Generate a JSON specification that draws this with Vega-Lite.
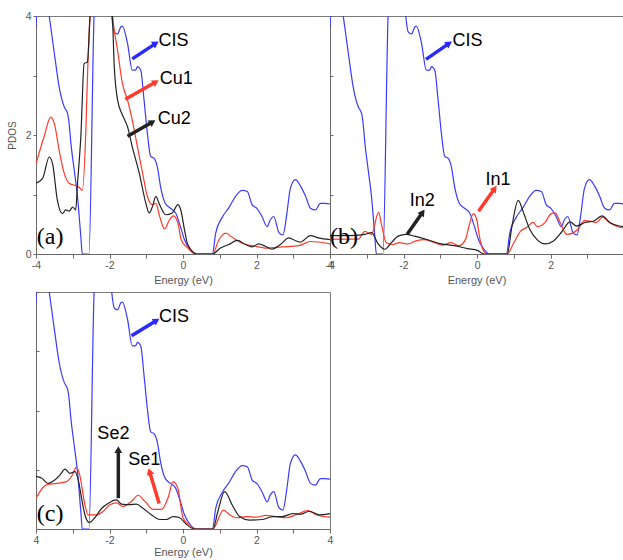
{
  "$schema": "https://vega.github.io/schema/vega-lite/v6.json",
  "padding": {"left": 6, "top": 10, "right": 0, "bottom": 0},
  "background": "white",
  "config": {
    "view": {"stroke": "#7a7a7a", "strokeWidth": 1},
    "axis": {"domainColor": "#6a6a6a", "tickColor": "#6a6a6a", "labelColor": "#555555", "titleColor": "#555555", "labelFont": "Liberation Sans", "titleFont": "Liberation Sans", "labelFontSize": 10.5, "titleFontSize": 11, "titleFontWeight": "normal", "grid": false}
  },
  "datasets": {
    "cis": [
      {"E":-4.0,"V":3.8},{"E":-3.95,"V":4.6},{"E":-3.8,"V":4.8},{"E":-3.64,"V":4.0},{"E":-3.5,"V":3.37},{"E":-3.37,"V":2.81},{"E":-3.23,"V":2.47},{"E":-3.14,"V":2.36},{"E":-3.1,"V":2.2},{"E":-3.05,"V":1.86},{"E":-2.96,"V":1.41},{"E":-2.87,"V":0.96},{"E":-2.78,"V":0.29},{"E":-2.74,"V":0},{"E":-2.56,"V":0},{"E":-2.42,"V":4.0},{"E":-2.3,"V":5},{"E":-2.05,"V":5},{"E":-1.94,"V":4.0},{"E":-1.87,"V":3.73},{"E":-1.78,"V":3.7},{"E":-1.69,"V":3.82},{"E":-1.65,"V":3.83},{"E":-1.51,"V":3.54},{"E":-1.38,"V":3.09},{"E":-1.29,"V":3.09},{"E":-1.24,"V":3.15},{"E":-1.15,"V":3.09},{"E":-1.06,"V":2.59},{"E":-0.97,"V":2.03},{"E":-0.88,"V":1.64},{"E":-0.79,"V":1.61},{"E":-0.7,"V":1.47},{"E":-0.61,"V":1.13},{"E":-0.48,"V":0.85},{"E":-0.34,"V":0.77},{"E":-0.2,"V":0.69},{"E":-0.07,"V":0.46},{"E":0.04,"V":0.24},{"E":0.2,"V":0.07},{"E":0.34,"V":0},{"E":0.8,"V":0},{"E":0.89,"V":0.35},{"E":1.07,"V":0.62},{"E":1.25,"V":0.78},{"E":1.43,"V":0.97},{"E":1.61,"V":1.07},{"E":1.75,"V":1.05},{"E":1.88,"V":0.83},{"E":2.02,"V":0.76},{"E":2.15,"V":0.63},{"E":2.29,"V":0.46},{"E":2.38,"V":0.58},{"E":2.47,"V":0.63},{"E":2.61,"V":0.36},{"E":2.72,"V":0.32},{"E":2.82,"V":0.65},{"E":2.92,"V":1.1},{"E":3.06,"V":1.25},{"E":3.19,"V":1.15},{"E":3.33,"V":0.98},{"E":3.47,"V":0.77},{"E":3.6,"V":0.74},{"E":3.74,"V":0.85},{"E":3.87,"V":0.85},{"E":4.0,"V":0.84}
    ],
    "pdos": [
      {"p":"a","s":"Cu1","E":-4.0,"V":1.52},{"p":"a","s":"Cu1","E":-3.78,"V":1.97},{"p":"a","s":"Cu1","E":-3.6,"V":2.3},{"p":"a","s":"Cu1","E":-3.5,"V":2.19},{"p":"a","s":"Cu1","E":-3.37,"V":1.74},{"p":"a","s":"Cu1","E":-3.23,"V":1.35},{"p":"a","s":"Cu1","E":-3.1,"V":1.19},{"p":"a","s":"Cu1","E":-2.92,"V":1.15},{"p":"a","s":"Cu1","E":-2.83,"V":1.12},{"p":"a","s":"Cu1","E":-2.74,"V":1.07},{"p":"a","s":"Cu1","E":-2.64,"V":2.14},{"p":"a","s":"Cu1","E":-2.6,"V":2.97},{"p":"a","s":"Cu1","E":-2.53,"V":4.0},{"p":"a","s":"Cu1","E":-2.45,"V":4.6},{"p":"a","s":"Cu1","E":-2.0,"V":4.6},{"p":"a","s":"Cu1","E":-1.92,"V":4.0},{"p":"a","s":"Cu1","E":-1.78,"V":3.42},{"p":"a","s":"Cu1","E":-1.65,"V":2.87},{"p":"a","s":"Cu1","E":-1.51,"V":2.59},{"p":"a","s":"Cu1","E":-1.38,"V":2.25},{"p":"a","s":"Cu1","E":-1.24,"V":1.8},{"p":"a","s":"Cu1","E":-1.1,"V":1.36},{"p":"a","s":"Cu1","E":-0.97,"V":0.97},{"p":"a","s":"Cu1","E":-0.84,"V":0.83},{"p":"a","s":"Cu1","E":-0.74,"V":0.85},{"p":"a","s":"Cu1","E":-0.63,"V":0.62},{"p":"a","s":"Cu1","E":-0.5,"V":0.42},{"p":"a","s":"Cu1","E":-0.38,"V":0.56},{"p":"a","s":"Cu1","E":-0.26,"V":0.64},{"p":"a","s":"Cu1","E":-0.13,"V":0.5},{"p":"a","s":"Cu1","E":-0.05,"V":0.24},{"p":"a","s":"Cu1","E":0.13,"V":0.1},{"p":"a","s":"Cu1","E":0.34,"V":0},{"p":"a","s":"Cu1","E":0.8,"V":0},{"p":"a","s":"Cu1","E":0.98,"V":0.24},{"p":"a","s":"Cu1","E":1.16,"V":0.35},{"p":"a","s":"Cu1","E":1.34,"V":0.28},{"p":"a","s":"Cu1","E":1.61,"V":0.18},{"p":"a","s":"Cu1","E":1.97,"V":0.13},{"p":"a","s":"Cu1","E":2.24,"V":0.1},{"p":"a","s":"Cu1","E":2.7,"V":0.12},{"p":"a","s":"Cu1","E":3.15,"V":0.14},{"p":"a","s":"Cu1","E":3.47,"V":0.21},{"p":"a","s":"Cu1","E":4.0,"V":0.17},
      {"p":"a","s":"Cu2","E":-4.0,"V":1.19},{"p":"a","s":"Cu2","E":-3.82,"V":1.27},{"p":"a","s":"Cu2","E":-3.64,"V":1.63},{"p":"a","s":"Cu2","E":-3.55,"V":1.52},{"p":"a","s":"Cu2","E":-3.42,"V":0.91},{"p":"a","s":"Cu2","E":-3.28,"V":0.68},{"p":"a","s":"Cu2","E":-3.19,"V":0.74},{"p":"a","s":"Cu2","E":-3.1,"V":0.72},{"p":"a","s":"Cu2","E":-3.0,"V":0.79},{"p":"a","s":"Cu2","E":-2.92,"V":0.74},{"p":"a","s":"Cu2","E":-2.87,"V":1.19},{"p":"a","s":"Cu2","E":-2.78,"V":1.97},{"p":"a","s":"Cu2","E":-2.69,"V":3.2},{"p":"a","s":"Cu2","E":-2.6,"V":3.23},{"p":"a","s":"Cu2","E":-2.53,"V":4.0},{"p":"a","s":"Cu2","E":-2.45,"V":4.6},{"p":"a","s":"Cu2","E":-2.0,"V":4.6},{"p":"a","s":"Cu2","E":-1.92,"V":4.0},{"p":"a","s":"Cu2","E":-1.87,"V":3.15},{"p":"a","s":"Cu2","E":-1.78,"V":2.59},{"p":"a","s":"Cu2","E":-1.65,"V":2.34},{"p":"a","s":"Cu2","E":-1.51,"V":2.14},{"p":"a","s":"Cu2","E":-1.38,"V":1.8},{"p":"a","s":"Cu2","E":-1.19,"V":1.36},{"p":"a","s":"Cu2","E":-1.01,"V":0.85},{"p":"a","s":"Cu2","E":-0.92,"V":0.69},{"p":"a","s":"Cu2","E":-0.83,"V":0.8},{"p":"a","s":"Cu2","E":-0.74,"V":0.97},{"p":"a","s":"Cu2","E":-0.65,"V":0.85},{"p":"a","s":"Cu2","E":-0.47,"V":0.66},{"p":"a","s":"Cu2","E":-0.29,"V":0.69},{"p":"a","s":"Cu2","E":-0.14,"V":0.83},{"p":"a","s":"Cu2","E":-0.06,"V":0.74},{"p":"a","s":"Cu2","E":0.04,"V":0.41},{"p":"a","s":"Cu2","E":0.13,"V":0.16},{"p":"a","s":"Cu2","E":0.39,"V":0},{"p":"a","s":"Cu2","E":0.8,"V":0},{"p":"a","s":"Cu2","E":1.02,"V":0.1},{"p":"a","s":"Cu2","E":1.25,"V":0.16},{"p":"a","s":"Cu2","E":1.48,"V":0.23},{"p":"a","s":"Cu2","E":1.7,"V":0.16},{"p":"a","s":"Cu2","E":1.88,"V":0.12},{"p":"a","s":"Cu2","E":2.06,"V":0.17},{"p":"a","s":"Cu2","E":2.24,"V":0.13},{"p":"a","s":"Cu2","E":2.42,"V":0.08},{"p":"a","s":"Cu2","E":2.65,"V":0.16},{"p":"a","s":"Cu2","E":2.88,"V":0.27},{"p":"a","s":"Cu2","E":3.01,"V":0.24},{"p":"a","s":"Cu2","E":3.19,"V":0.2},{"p":"a","s":"Cu2","E":3.47,"V":0.31},{"p":"a","s":"Cu2","E":3.69,"V":0.27},{"p":"a","s":"Cu2","E":4.0,"V":0.24},
      {"p":"b","s":"In1","E":-4.0,"V":0.25},{"p":"b","s":"In1","E":-3.5,"V":0.25},{"p":"b","s":"In1","E":-3.23,"V":0.25},{"p":"b","s":"In1","E":-3.05,"V":0.38},{"p":"b","s":"In1","E":-2.87,"V":0.33},{"p":"b","s":"In1","E":-2.68,"V":0.7},{"p":"b","s":"In1","E":-2.59,"V":0.47},{"p":"b","s":"In1","E":-2.47,"V":0.19},{"p":"b","s":"In1","E":-2.29,"V":0.16},{"p":"b","s":"In1","E":-2.11,"V":0.19},{"p":"b","s":"In1","E":-1.88,"V":0.17},{"p":"b","s":"In1","E":-1.66,"V":0.22},{"p":"b","s":"In1","E":-1.43,"V":0.24},{"p":"b","s":"In1","E":-1.16,"V":0.19},{"p":"b","s":"In1","E":-0.94,"V":0.15},{"p":"b","s":"In1","E":-0.71,"V":0.19},{"p":"b","s":"In1","E":-0.49,"V":0.14},{"p":"b","s":"In1","E":-0.31,"V":0.25},{"p":"b","s":"In1","E":-0.22,"V":0.47},{"p":"b","s":"In1","E":-0.1,"V":0.68},{"p":"b","s":"In1","E":-0.01,"V":0.58},{"p":"b","s":"In1","E":0.08,"V":0.25},{"p":"b","s":"In1","E":0.17,"V":0.06},{"p":"b","s":"In1","E":0.28,"V":0},{"p":"b","s":"In1","E":0.82,"V":0},{"p":"b","s":"In1","E":1.0,"V":0.19},{"p":"b","s":"In1","E":1.18,"V":0.38},{"p":"b","s":"In1","E":1.36,"V":0.45},{"p":"b","s":"In1","E":1.52,"V":0.53},{"p":"b","s":"In1","E":1.65,"V":0.46},{"p":"b","s":"In1","E":1.85,"V":0.53},{"p":"b","s":"In1","E":2.0,"V":0.67},{"p":"b","s":"In1","E":2.12,"V":0.69},{"p":"b","s":"In1","E":2.26,"V":0.53},{"p":"b","s":"In1","E":2.44,"V":0.33},{"p":"b","s":"In1","E":2.6,"V":0.35},{"p":"b","s":"In1","E":2.75,"V":0.42},{"p":"b","s":"In1","E":2.92,"V":0.56},{"p":"b","s":"In1","E":3.1,"V":0.55},{"p":"b","s":"In1","E":3.25,"V":0.53},{"p":"b","s":"In1","E":3.41,"V":0.62},{"p":"b","s":"In1","E":3.6,"V":0.53},{"p":"b","s":"In1","E":3.87,"V":0.45},{"p":"b","s":"In1","E":4.0,"V":0.44},
      {"p":"b","s":"In2","E":-4.0,"V":0.31},{"p":"b","s":"In2","E":-3.5,"V":0.31},{"p":"b","s":"In2","E":-3.05,"V":0.33},{"p":"b","s":"In2","E":-2.87,"V":0.36},{"p":"b","s":"In2","E":-2.69,"V":0.17},{"p":"b","s":"In2","E":-2.51,"V":0.08},{"p":"b","s":"In2","E":-2.33,"V":0.19},{"p":"b","s":"In2","E":-2.15,"V":0.3},{"p":"b","s":"In2","E":-1.93,"V":0.33},{"p":"b","s":"In2","E":-1.7,"V":0.3},{"p":"b","s":"In2","E":-1.34,"V":0.24},{"p":"b","s":"In2","E":-0.98,"V":0.17},{"p":"b","s":"In2","E":-0.62,"V":0.14},{"p":"b","s":"In2","E":-0.26,"V":0.09},{"p":"b","s":"In2","E":0.01,"V":0.06},{"p":"b","s":"In2","E":0.19,"V":0},{"p":"b","s":"In2","E":0.82,"V":0},{"p":"b","s":"In2","E":0.95,"V":0.47},{"p":"b","s":"In2","E":1.12,"V":0.9},{"p":"b","s":"In2","E":1.25,"V":0.72},{"p":"b","s":"In2","E":1.43,"V":0.42},{"p":"b","s":"In2","E":1.62,"V":0.25},{"p":"b","s":"In2","E":1.85,"V":0.17},{"p":"b","s":"In2","E":2.08,"V":0.22},{"p":"b","s":"In2","E":2.3,"V":0.37},{"p":"b","s":"In2","E":2.53,"V":0.54},{"p":"b","s":"In2","E":2.71,"V":0.47},{"p":"b","s":"In2","E":2.94,"V":0.53},{"p":"b","s":"In2","E":3.16,"V":0.55},{"p":"b","s":"In2","E":3.4,"V":0.64},{"p":"b","s":"In2","E":3.61,"V":0.53},{"p":"b","s":"In2","E":3.87,"V":0.47},{"p":"b","s":"In2","E":4.0,"V":0.46},
      {"p":"c","s":"Se1","E":-4.0,"V":0.52},{"p":"c","s":"Se1","E":-3.71,"V":0.75},{"p":"c","s":"Se1","E":-3.44,"V":0.77},{"p":"c","s":"Se1","E":-3.17,"V":0.8},{"p":"c","s":"Se1","E":-3.03,"V":0.89},{"p":"c","s":"Se1","E":-2.9,"V":1.04},{"p":"c","s":"Se1","E":-2.81,"V":0.91},{"p":"c","s":"Se1","E":-2.67,"V":0.41},{"p":"c","s":"Se1","E":-2.58,"V":0.24},{"p":"c","s":"Se1","E":-2.35,"V":0.24},{"p":"c","s":"Se1","E":-2.17,"V":0.3},{"p":"c","s":"Se1","E":-1.99,"V":0.41},{"p":"c","s":"Se1","E":-1.81,"V":0.44},{"p":"c","s":"Se1","E":-1.63,"V":0.38},{"p":"c","s":"Se1","E":-1.4,"V":0.47},{"p":"c","s":"Se1","E":-1.22,"V":0.57},{"p":"c","s":"Se1","E":-1.04,"V":0.47},{"p":"c","s":"Se1","E":-0.81,"V":0.33},{"p":"c","s":"Se1","E":-0.59,"V":0.33},{"p":"c","s":"Se1","E":-0.41,"V":0.52},{"p":"c","s":"Se1","E":-0.27,"V":0.8},{"p":"c","s":"Se1","E":-0.14,"V":0.69},{"p":"c","s":"Se1","E":0.0,"V":0.19},{"p":"c","s":"Se1","E":0.18,"V":0.07},{"p":"c","s":"Se1","E":0.36,"V":0},{"p":"c","s":"Se1","E":0.81,"V":0},{"p":"c","s":"Se1","E":1.1,"V":0.32},{"p":"c","s":"Se1","E":1.27,"V":0.24},{"p":"c","s":"Se1","E":1.45,"V":0.19},{"p":"c","s":"Se1","E":1.72,"V":0.21},{"p":"c","s":"Se1","E":1.99,"V":0.2},{"p":"c","s":"Se1","E":2.26,"V":0.23},{"p":"c","s":"Se1","E":2.53,"V":0.21},{"p":"c","s":"Se1","E":2.81,"V":0.19},{"p":"c","s":"Se1","E":3.08,"V":0.24},{"p":"c","s":"Se1","E":3.39,"V":0.31},{"p":"c","s":"Se1","E":3.62,"V":0.24},{"p":"c","s":"Se1","E":4.0,"V":0.2},
      {"p":"c","s":"Se2","E":-4.0,"V":0.89},{"p":"c","s":"Se2","E":-3.85,"V":0.86},{"p":"c","s":"Se2","E":-3.67,"V":0.77},{"p":"c","s":"Se2","E":-3.48,"V":0.83},{"p":"c","s":"Se2","E":-3.35,"V":0.91},{"p":"c","s":"Se2","E":-3.21,"V":1.01},{"p":"c","s":"Se2","E":-3.08,"V":0.94},{"p":"c","s":"Se2","E":-2.94,"V":0.97},{"p":"c","s":"Se2","E":-2.85,"V":0.83},{"p":"c","s":"Se2","E":-2.76,"V":0.52},{"p":"c","s":"Se2","E":-2.67,"V":0.24},{"p":"c","s":"Se2","E":-2.55,"V":0.11},{"p":"c","s":"Se2","E":-2.4,"V":0.19},{"p":"c","s":"Se2","E":-2.21,"V":0.35},{"p":"c","s":"Se2","E":-2.04,"V":0.43},{"p":"c","s":"Se2","E":-1.81,"V":0.49},{"p":"c","s":"Se2","E":-1.67,"V":0.42},{"p":"c","s":"Se2","E":-1.45,"V":0.41},{"p":"c","s":"Se2","E":-1.27,"V":0.42},{"p":"c","s":"Se2","E":-1.09,"V":0.35},{"p":"c","s":"Se2","E":-0.86,"V":0.24},{"p":"c","s":"Se2","E":-0.63,"V":0.16},{"p":"c","s":"Se2","E":-0.45,"V":0.16},{"p":"c","s":"Se2","E":-0.27,"V":0.21},{"p":"c","s":"Se2","E":-0.09,"V":0.19},{"p":"c","s":"Se2","E":0.09,"V":0.08},{"p":"c","s":"Se2","E":0.32,"V":0},{"p":"c","s":"Se2","E":0.81,"V":0},{"p":"c","s":"Se2","E":0.95,"V":0.3},{"p":"c","s":"Se2","E":1.13,"V":0.63},{"p":"c","s":"Se2","E":1.36,"V":0.38},{"p":"c","s":"Se2","E":1.54,"V":0.21},{"p":"c","s":"Se2","E":1.81,"V":0.15},{"p":"c","s":"Se2","E":2.17,"V":0.16},{"p":"c","s":"Se2","E":2.44,"V":0.21},{"p":"c","s":"Se2","E":2.7,"V":0.21},{"p":"c","s":"Se2","E":2.99,"V":0.26},{"p":"c","s":"Se2","E":3.2,"V":0.25},{"p":"c","s":"Se2","E":3.44,"V":0.3},{"p":"c","s":"Se2","E":3.71,"V":0.24},{"p":"c","s":"Se2","E":4.0,"V":0.26}
    ],
    "notes": [
      {"p":"a","t":"CIS","E":-0.67,"V":3.58},{"p":"a","t":"Cu1","E":-0.63,"V":2.94},{"p":"a","t":"Cu2","E":-0.69,"V":2.27},
      {"p":"b","t":"CIS","E":-0.67,"V":3.58},{"p":"b","t":"In1","E":0.23,"V":1.24},{"p":"b","t":"In2","E":-1.83,"V":0.89},
      {"p":"c","t":"CIS","E":-0.65,"V":3.57},{"p":"c","t":"Se2","E":-2.33,"V":1.6},{"p":"c","t":"Se1","E":-1.49,"V":1.17}
    ],
    "tags": [
      {"p":"a","t":"(a)","E":-3.98,"V":0.29},{"p":"b","t":"(b)","E":-4.0,"V":0.29},{"p":"c","t":"(c)","E":-3.98,"V":0.26}
    ],
    "arrows": [
      {"p":"a","s":"CIS","E0":-1.38,"V0":3.28,"E":-0.74,"V":3.54},{"p":"a","s":"Cu1","E0":-1.57,"V0":2.6,"E":-0.74,"V":2.89},{"p":"a","s":"Cu2","E0":-1.51,"V0":1.98,"E":-0.83,"V":2.22},
      {"p":"b","s":"CIS","E0":-1.39,"V0":3.27,"E":-0.76,"V":3.54},{"p":"b","s":"In1","E0":0.04,"V0":0.72,"E":0.48,"V":1.1},{"p":"b","s":"In2","E0":-1.9,"V0":0.33,"E":-1.48,"V":0.7},
      {"p":"c","s":"CIS","E0":-1.4,"V0":3.26,"E":-0.72,"V":3.52},{"p":"c","s":"Se2","E0":-1.76,"V0":0.52,"E":-1.76,"V":1.34},{"p":"c","s":"Se1","E0":-0.65,"V0":0.43,"E":-0.91,"V":0.97}
    ]
  },
  "columns": 2,
  "bounds": "flush",
  "spacing": {"row": 38, "column": 0},
  "concat": [
    {
      "width": 294, "height": 238,
      "encoding": {
        "x": {"field": "E", "type": "quantitative", "scale": {"domain": [-4, 4], "nice": false, "zero": false},
              "axis": {"title": "Energy (eV)", "values": [-4,-3,-2,-1,0,1,2,3,4], "labelExpr": "datum.value % 2 === 0 ? '' + datum.value : ''", "labelFlush": false, "labelOverlap": false, "tickSize": 4}},
        "y": {"field": "V", "type": "quantitative", "scale": {"domain": [0, 4], "nice": false},
              "axis": {"title": "PDOS", "titleFontSize": 10, "values": [0,1,2,3,4], "labelExpr": "datum.value % 2 === 0 ? '' + datum.value : ''", "tickSize": 3, "labelPadding": 2, "titlePadding": 8}}
      },
      "layer": [
        {"data": {"name": "cis"}, "mark": {"type": "line", "color": "#3a3aff", "strokeWidth": 1.2, "clip": true, "interpolate": "monotone"}},
        {"data": {"name": "pdos"}, "transform": [{"filter": "datum.p === 'a'"}], "mark": {"type": "line", "strokeWidth": 1.2, "clip": true, "interpolate": "monotone"},
         "encoding": {"color": {"field": "s", "type": "nominal", "scale": {"domain": ["CIS","Cu1","Cu2","In1","In2","Se1","Se2"], "range": ["#2a2aff","#ff3a2a","#222222","#ff3a2a","#222222","#ff3a2a","#222222"]}, "legend": null}}},
        {"data": {"name": "arrows"}, "transform": [{"filter": "datum.p === 'a'"}], "mark": {"type": "rule", "strokeWidth": 3.5},
         "encoding": {"x2": {"field": "E0"}, "y2": {"field": "V0"}, "color": {"field": "s", "type": "nominal", "legend": null}}},
        {"data": {"name": "arrows"}, "transform": [{"filter": "datum.p === 'a'"}], "mark": {"type": "point", "shape": "triangle-up", "filled": true, "opacity": 1, "size": 60, "angle": 58},
         "encoding": {"color": {"field": "s", "type": "nominal", "legend": null}}},
        {"data": {"name": "notes"}, "transform": [{"filter": "datum.p === 'a'"}], "mark": {"type": "text", "align": "left", "baseline": "middle", "fontSize": 18, "font": "Liberation Sans", "color": "#000000"},
         "encoding": {"text": {"field": "t"}}},
        {"data": {"name": "tags"}, "transform": [{"filter": "datum.p === 'a'"}], "mark": {"type": "text", "align": "left", "baseline": "middle", "fontSize": 24, "font": "Liberation Serif", "color": "#000000"},
         "encoding": {"text": {"field": "t"}}}
      ]
    },
    {
      "width": 293, "height": 238,
      "encoding": {
        "x": {"field": "E", "type": "quantitative", "scale": {"domain": [-4, 3.97], "nice": false, "zero": false},
              "axis": {"title": "Energy (eV)", "values": [-4,-3,-2,-1,0,1,2,3], "labelExpr": "datum.value % 2 === 0 ? '' + datum.value : ''", "labelFlush": false, "labelOverlap": false, "tickSize": 4}},
        "y": {"field": "V", "type": "quantitative", "scale": {"domain": [0, 4], "nice": false},
              "axis": {"title": null, "labels": false, "values": [0,1,2,3,4], "tickSize": -3}}
      },
      "layer": [
        {"data": {"name": "cis"}, "mark": {"type": "line", "color": "#3a3aff", "strokeWidth": 1.2, "clip": true, "interpolate": "monotone"}},
        {"data": {"name": "pdos"}, "transform": [{"filter": "datum.p === 'b'"}], "mark": {"type": "line", "strokeWidth": 1.2, "clip": true, "interpolate": "monotone"},
         "encoding": {"color": {"field": "s", "type": "nominal", "scale": {"domain": ["CIS","Cu1","Cu2","In1","In2","Se1","Se2"], "range": ["#2a2aff","#ff3a2a","#222222","#ff3a2a","#222222","#ff3a2a","#222222"]}, "legend": null}}},
        {"data": {"name": "arrows"}, "transform": [{"filter": "datum.p === 'b'"}], "mark": {"type": "rule", "strokeWidth": 3.5},
         "encoding": {"x2": {"field": "E0"}, "y2": {"field": "V0"}, "color": {"field": "s", "type": "nominal", "legend": null}}},
        {"data": {"name": "arrows"}, "transform": [{"filter": "datum.p === 'b' && datum.s === 'CIS'"}], "mark": {"type": "point", "shape": "triangle-up", "filled": true, "opacity": 1, "size": 60, "angle": 56},
         "encoding": {"color": {"field": "s", "type": "nominal", "legend": null}}},
        {"data": {"name": "arrows"}, "transform": [{"filter": "datum.p === 'b' && datum.s !== 'CIS'"}], "mark": {"type": "point", "shape": "triangle-up", "filled": true, "opacity": 1, "size": 60, "angle": 35},
         "encoding": {"color": {"field": "s", "type": "nominal", "legend": null}}},
        {"data": {"name": "notes"}, "transform": [{"filter": "datum.p === 'b'"}], "mark": {"type": "text", "align": "left", "baseline": "middle", "fontSize": 18, "font": "Liberation Sans", "color": "#000000"},
         "encoding": {"text": {"field": "t"}}},
        {"data": {"name": "tags"}, "transform": [{"filter": "datum.p === 'b'"}], "mark": {"type": "text", "align": "left", "baseline": "middle", "fontSize": 24, "font": "Liberation Serif", "color": "#000000"},
         "encoding": {"text": {"field": "t"}}}
      ]
    },
    {
      "width": 294, "height": 237,
      "encoding": {
        "x": {"field": "E", "type": "quantitative", "scale": {"domain": [-4, 4], "nice": false, "zero": false},
              "axis": {"title": "Energy (eV)", "titlePadding": 1, "values": [-4,-3,-2,-1,0,1,2,3,4], "labelExpr": "datum.value === -4 ? '4' : (datum.value % 2 === 0 ? '' + datum.value : '')", "labelFlush": false, "labelOverlap": false, "tickSize": 4}},
        "y": {"field": "V", "type": "quantitative", "scale": {"domain": [0, 4], "nice": false},
              "axis": {"title": null, "labels": false, "values": [0,1,2,3,4], "tickSize": -3}}
      },
      "layer": [
        {"data": {"name": "cis"}, "mark": {"type": "line", "color": "#3a3aff", "strokeWidth": 1.2, "clip": true, "interpolate": "monotone"}},
        {"data": {"name": "pdos"}, "transform": [{"filter": "datum.p === 'c'"}], "mark": {"type": "line", "strokeWidth": 1.2, "clip": true, "interpolate": "monotone"},
         "encoding": {"color": {"field": "s", "type": "nominal", "scale": {"domain": ["CIS","Cu1","Cu2","In1","In2","Se1","Se2"], "range": ["#2a2aff","#ff3a2a","#222222","#ff3a2a","#222222","#ff3a2a","#222222"]}, "legend": null}}},
        {"data": {"name": "arrows"}, "transform": [{"filter": "datum.p === 'c'"}], "mark": {"type": "rule", "strokeWidth": 3.5},
         "encoding": {"x2": {"field": "E0"}, "y2": {"field": "V0"}, "color": {"field": "s", "type": "nominal", "legend": null}}},
        {"data": {"name": "arrows"}, "transform": [{"filter": "datum.p === 'c' && datum.s === 'CIS'"}], "mark": {"type": "point", "shape": "triangle-up", "filled": true, "opacity": 1, "size": 60, "angle": 58},
         "encoding": {"color": {"field": "s", "type": "nominal", "legend": null}}},
        {"data": {"name": "arrows"}, "transform": [{"filter": "datum.p === 'c' && datum.s === 'Se2'"}], "mark": {"type": "point", "shape": "triangle-up", "filled": true, "opacity": 1, "size": 60, "angle": 0},
         "encoding": {"color": {"field": "s", "type": "nominal", "legend": null}}},
        {"data": {"name": "arrows"}, "transform": [{"filter": "datum.p === 'c' && datum.s === 'Se1'"}], "mark": {"type": "point", "shape": "triangle-up", "filled": true, "opacity": 1, "size": 60, "angle": -17},
         "encoding": {"color": {"field": "s", "type": "nominal", "legend": null}}},
        {"data": {"name": "notes"}, "transform": [{"filter": "datum.p === 'c'"}], "mark": {"type": "text", "align": "left", "baseline": "middle", "fontSize": 18, "font": "Liberation Sans", "color": "#000000"},
         "encoding": {"text": {"field": "t"}}},
        {"data": {"name": "tags"}, "transform": [{"filter": "datum.p === 'c'"}], "mark": {"type": "text", "align": "left", "baseline": "middle", "fontSize": 24, "font": "Liberation Serif", "color": "#000000"},
         "encoding": {"text": {"field": "t"}}}
      ]
    }
  ]
}
